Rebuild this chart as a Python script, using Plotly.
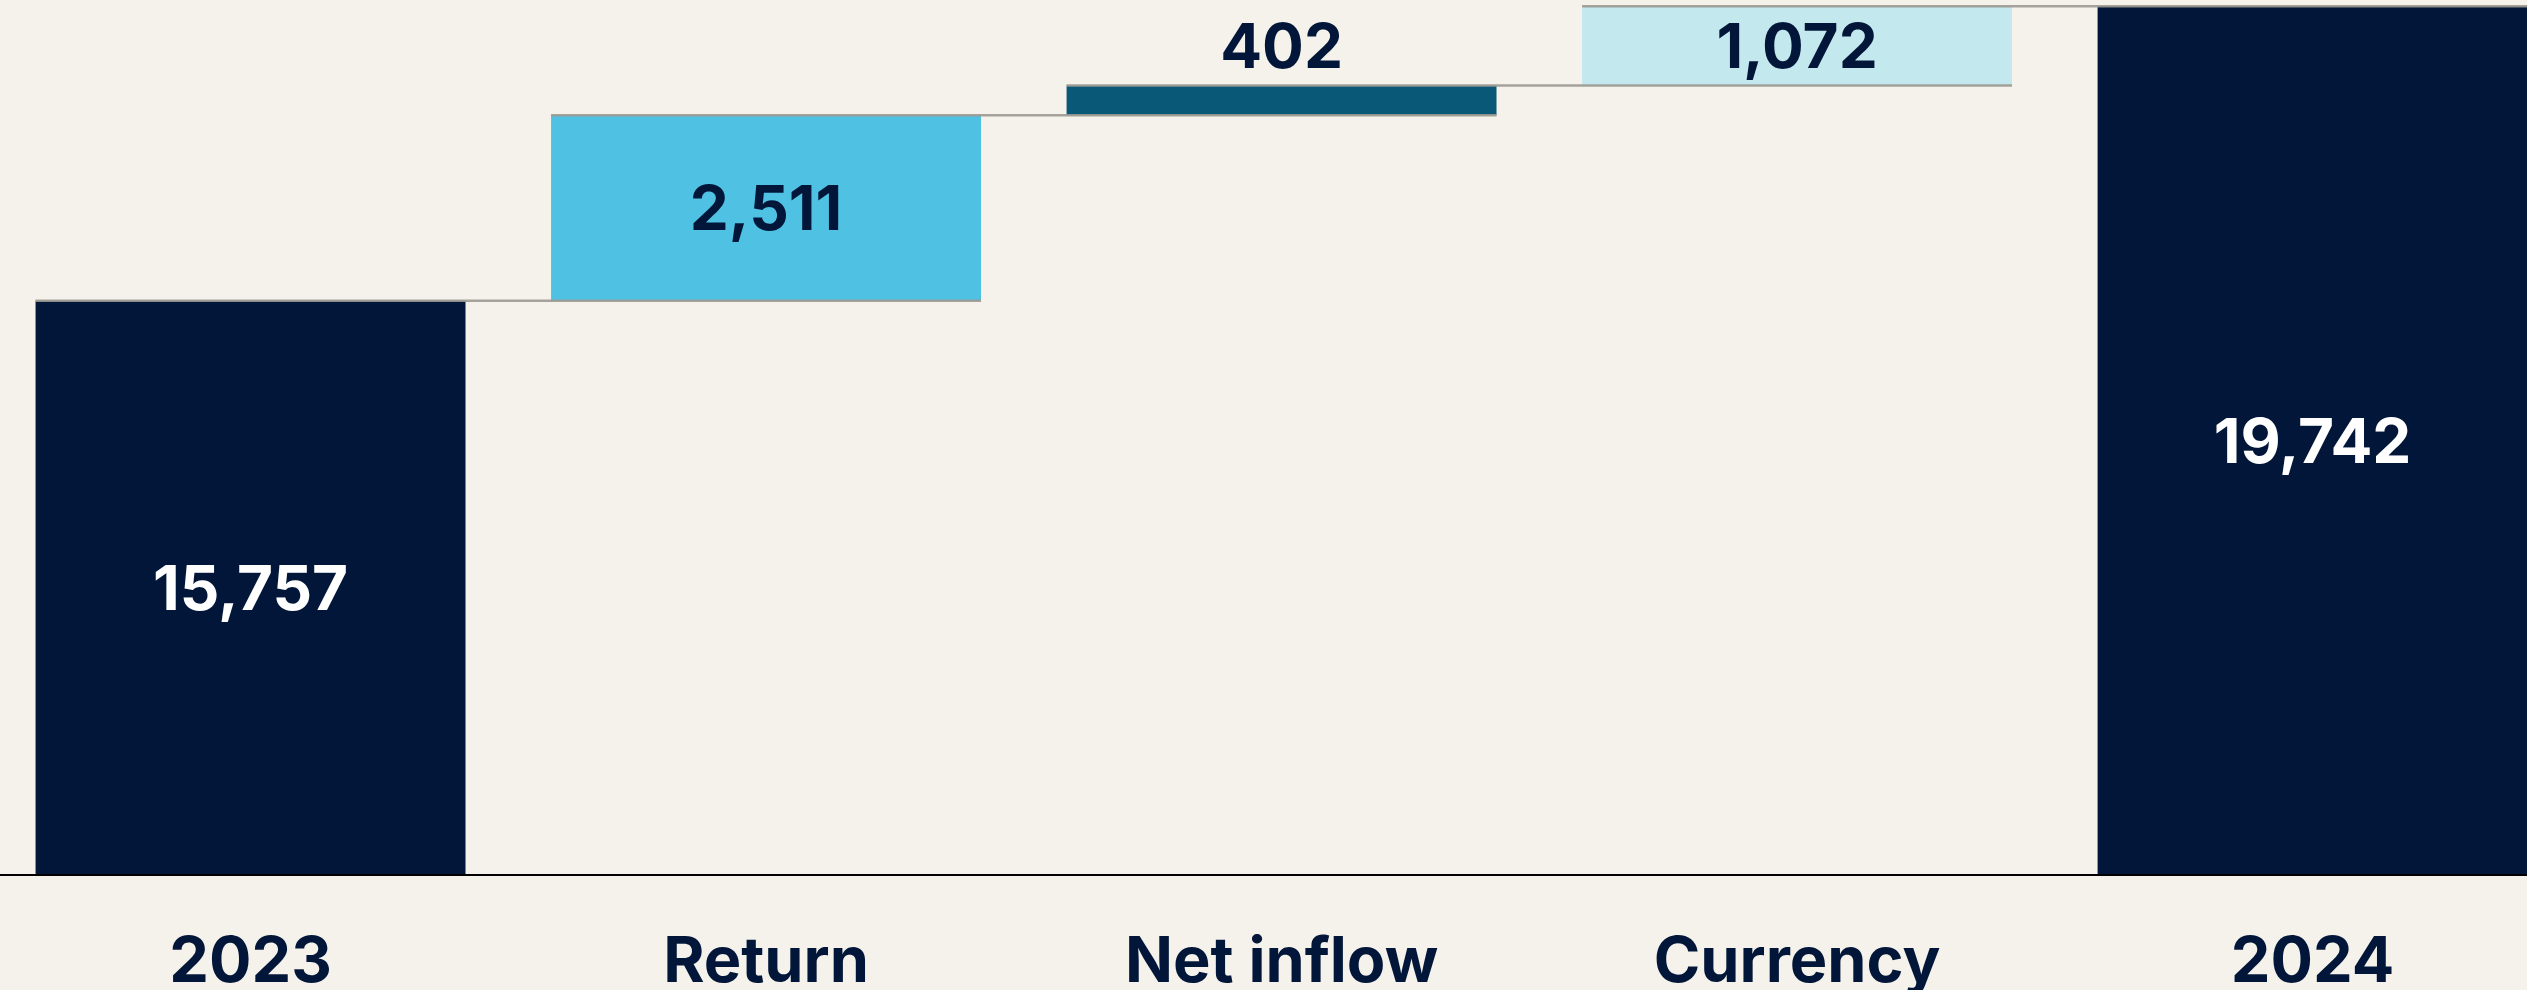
import plotly.graph_objects as go

# data
categories = ["2023", "Return", "Net inflow", "Currency", "2024"]
values = [15757, 2511, 402, 1072, 19742]
measures = ["absolute", "relative", "relative", "relative", "total"]
bar_colors = ["#011638", "#4FC1E3", "#0A5877", "#C3E8EE", "#011638"]
text_colors = ["#FFFFFF", "#011638", "#011638", "#011638", "#FFFFFF"]
text_positions = ["inside", "inside", "outside", "inside", "inside"]

NAVY = "#011638"
BG = "#F5F2EB"
Y_FLOOR = 8000
Y_TOP = 19800
BAR_W = 0.834
FONT = "Inter, Roboto, sans-serif"

# build bar bases / lengths from the running total
bases, lengths, levels = [], [], []
running = 0
for v, m in zip(values, measures):
    if m == "absolute":
        running = v
        bases.append(Y_FLOOR)
        lengths.append(v - Y_FLOOR)
    elif m == "relative":
        bases.append(running)
        lengths.append(v)
        running += v
    else:
        bases.append(Y_FLOOR)
        lengths.append(v - Y_FLOOR)
    levels.append(running)

xs = list(range(len(categories)))

fig = go.Figure()

fig.add_trace(go.Bar(
    x=xs,
    y=lengths,
    base=bases,
    width=BAR_W,
    marker=dict(color=bar_colors, line=dict(width=0)),
    text=[f"{v:,}" for v in values],
    textposition=text_positions,
    insidetextanchor="middle",
    constraintext="none",
    cliponaxis=False,
    textfont=dict(size=62, color=text_colors, family=FONT, weight=700),
    hoverinfo="skip",
))

# connectors spanning from one bar to the next
cx, cy = [], []
for i in range(len(categories) - 1):
    cx += [i - BAR_W / 2, i + 1 + BAR_W / 2, None]
    cy += [levels[i], levels[i], None]

fig.add_trace(go.Scatter(
    x=cx, y=cy, mode="lines",
    line=dict(color="rgba(155,153,145,0.9)", width=2.5),
    hoverinfo="skip",
))

fig.update_layout(
    width=2527,
    height=990,
    margin=dict(l=0, r=0, t=2, b=116, autoexpand=False),
    paper_bgcolor=BG,
    plot_bgcolor=BG,
    showlegend=False,
    xaxis=dict(
        range=[-0.486, 4.416],
        tickvals=xs,
        ticktext=categories,
        tickfont=dict(size=63, color=NAVY, family=FONT, weight=700),
        ticklabelstandoff=30,
        automargin=False,
        showgrid=False,
        zeroline=False,
        showline=True,
        linecolor="#000000",
        linewidth=2,
        ticks="",
    ),
    yaxis=dict(
        range=[Y_FLOOR, Y_TOP],
        automargin=False,
        showgrid=False,
        zeroline=False,
        showticklabels=False,
        showline=False,
    ),
)

fig.write_html(
    "out.html",
    config={"displayModeBar": False},
    post_script="document.body.style.margin='0';"
                "document.body.style.background='" + BG + "';",
)
